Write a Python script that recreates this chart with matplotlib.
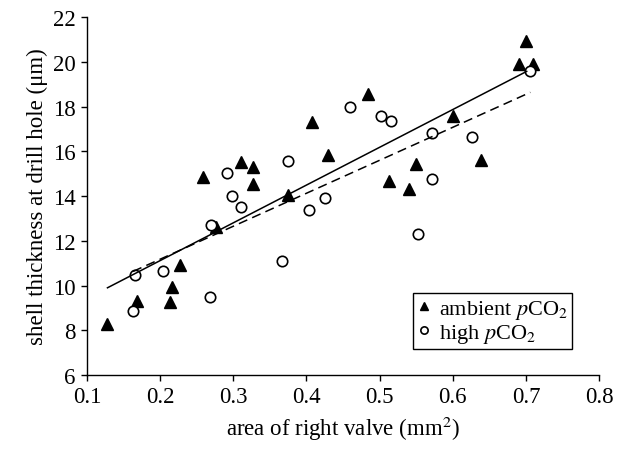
import matplotlib
matplotlib.use('Agg')
import matplotlib.pyplot as plt
import numpy as np

plt.rcParams['font.family'] = ['Liberation Serif', 'DejaVu Serif']
plt.rcParams['mathtext.fontset'] = 'stix'

# ambient pCO2 (filled triangles)
amb_area = [0.128, 0.168, 0.213, 0.216, 0.227, 0.259, 0.277, 0.311, 0.327, 0.327,
            0.375, 0.408, 0.430, 0.484, 0.513, 0.540, 0.550, 0.600, 0.638, 0.690,
            0.700, 0.710]
amb_thick = [8.28, 9.30, 9.25, 9.92, 10.94, 14.85, 12.60, 15.54, 15.29, 14.55,
             14.07, 17.33, 15.83, 18.54, 14.68, 14.32, 15.44, 17.56, 15.60, 19.90,
             20.94, 19.90]

# high pCO2 (open circles)
high_area = [0.163, 0.166, 0.204, 0.268, 0.269, 0.292, 0.298, 0.311, 0.366, 0.375,
             0.404, 0.425, 0.460, 0.502, 0.515, 0.552, 0.571, 0.572, 0.626, 0.706]
high_thick = [8.85, 10.47, 10.64, 9.48, 12.71, 15.04, 14.02, 13.53, 11.11, 15.57,
              13.38, 13.90, 17.98, 17.57, 17.36, 12.31, 16.81, 14.77, 16.65, 19.57]

# regression lines (slope, intercept)
amb_fit = [16.88, 7.74]
high_fit = [14.74, 8.23]

fig = plt.figure(figsize=(6.28, 4.52), dpi=100)
ax = fig.add_axes([0.1385, 0.168, 0.8155, 0.792])

ax.plot(amb_area, amb_thick, linestyle='none', marker='^', color='black',
        markersize=8, label=r'ambient $p$CO$_2$')
ax.plot(high_area, high_thick, linestyle='none', marker='o', markerfacecolor='white',
        markeredgecolor='black', markeredgewidth=1.2, markersize=7.5,
        label=r'high $p$CO$_2$')

xa = np.array([min(amb_area), max(amb_area) - 0.009])
ax.plot(xa, amb_fit[0] * xa + amb_fit[1], color='black', lw=1.1)
xh = np.array([min(high_area), max(high_area)])
ax.plot(xh, high_fit[0] * xh + high_fit[1], color='black', lw=1.1, linestyle=(0, (6, 3.5)))

ax.set_xlim(0.1, 0.8)
ax.set_ylim(6, 22)
ax.set_xticks(np.arange(0.1, 0.81, 0.1))
ax.set_xticklabels(['0.1', '0.2', '0.3', '0.4', '0.5', '0.6', '0.7', '0.8'])
ax.set_yticks(range(6, 23, 2))

for s in ['top', 'right']:
    ax.spines[s].set_visible(False)
for s in ['left', 'bottom']:
    ax.spines[s].set_linewidth(1.0)
ax.tick_params(direction='out', length=4, width=1, labelsize=16.5, pad=4)

ax.set_xlabel('area of right valve (mm$^2$)', fontsize=16.5, labelpad=5)
ax.set_ylabel('shell thickness at drill hole (μm)', fontsize=16.5, labelpad=4)

leg = ax.legend(loc='upper left', bbox_to_anchor=(0.637, 0.229), fontsize=16,
                frameon=True, fancybox=False, edgecolor='black', framealpha=1,
                handlelength=0.6, handletextpad=0.35, borderpad=0.2,
                labelspacing=0.05, markerscale=0.7, borderaxespad=0)
leg.get_frame().set_linewidth(1.0)

fig.savefig('out.png', dpi=100)
